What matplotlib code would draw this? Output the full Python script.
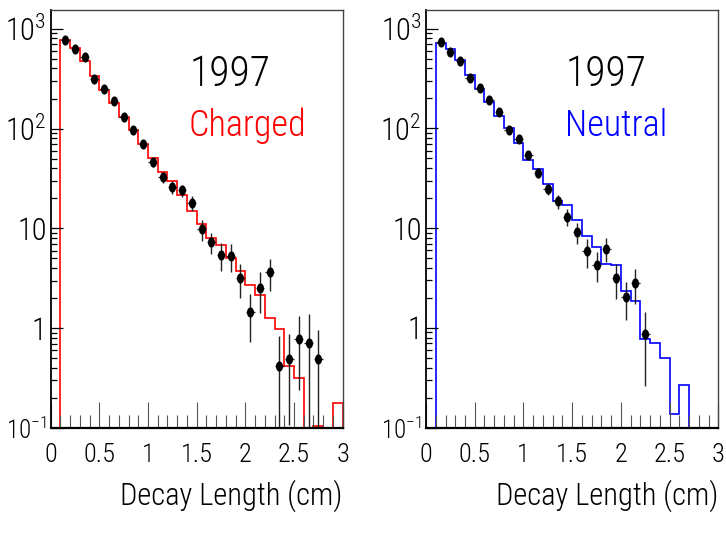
#decay length distributions, charged and neutral, 1997 data vs MC histogram
import numpy as np
import matplotlib
matplotlib.use('Agg')
import matplotlib.pyplot as plt
from matplotlib import font_manager
from matplotlib.path import Path
from matplotlib.transforms import Affine2D
from matplotlib.markers import MarkerStyle
from matplotlib.ticker import LogLocator, NullFormatter, MultipleLocator

# pick the narrowest sans font we can find (ROOT font is very condensed)
names = {f.name for f in font_manager.fontManager.ttflist}
fam = 'DejaVu Sans'
for cand in ['Liberation Sans Narrow', 'Roboto Condensed', 'DejaVu Sans Condensed', 'Liberation Sans']:
    if cand in names:
        fam = cand
        break
plt.rcParams['font.family'] = [fam, 'DejaVu Sans']
plt.rcParams['font.weight'] = 'light'
plt.rcParams['axes.labelweight'] = 'light'
plt.rcParams['mathtext.default'] = 'regular'

# bins 0.1 .. 3.0 in steps of 0.1
bin_edges = np.round(np.arange(0.1, 3.05, 0.1), 2)

charged_hist = [776, 636, 471, 339, 245, 181, 130, 97, 70, 51, 37, 30, 21.4, 15.1, 11.0,
                8.1, 6.76, 5.1, 3.7, 2.7, 2.14, 1.27, 0.985, 0.417, 0.318, 0, 0.105, 0, 0.18]
charged_x = [0.15, 0.25, 0.35, 0.45, 0.55, 0.65, 0.75, 0.85, 0.95, 1.05, 1.15, 1.25, 1.35, 1.45,
             1.55, 1.65, 1.75, 1.85, 1.95, 2.05, 2.15, 2.25, 2.35, 2.45, 2.55, 2.65, 2.75]
charged_y = [763, 626, 516, 316, 249, 189, 131, 96, 70, 46, 32.6, 25.9, 24, 18.1,
             9.8, 7.3, 5.45, 5.3, 3.2, 1.46, 2.53, 3.66, 0.417, 0.486, 0.788, 0.703, 0.486]
charged_err = [19.5, 17.7, 16, 12.6, 11, 9.7, 8, 6.9, 5.9, 4.8, 4.0, 3.6, 3.5, 3.0,
               2.4, 1.7, 1.7, 1.65, 1.2, 0.73, 1.1, 1.3, 0.42, 0.38, 0.55, 0.68, 0.48]

neutral_hist = [724, 630, 481, 340, 250, 184, 133, 100, 71.4, 47.9, 39.5, 27.6, 18.7, 16.9, 12.0,
                8.3, 6.5, 4.35, 4.25, 2.33, 1.85, 0.77, 0.70, 0.505, 0.136, 0.27, 0, 0, 0]
neutral_x = [0.15, 0.25, 0.35, 0.45, 0.55, 0.65, 0.75, 0.85, 0.95, 1.05, 1.15,
             1.25, 1.35, 1.45, 1.55, 1.65, 1.75, 1.85, 1.95, 2.05, 2.15, 2.25]
neutral_y = [734, 583, 470, 323, 256, 191, 145, 97.3, 79, 53.7, 35.7,
             24.9, 18.6, 12.9, 9.1, 5.9, 4.32, 6.25, 3.17, 2.05, 2.83, 0.86]
neutral_err = [19, 17, 15.3, 12.7, 11.3, 9.8, 8.5, 7, 6.3, 5.2, 4.2,
               3.5, 3.0, 2.5, 2.1, 1.9, 1.45, 1.7, 1.2, 0.85, 1.1, 0.6]

ytick_vals = [0.1, 1, 10, 100, 1000]
ytick_labels = [r'$10^{-1}$', '1', '10', r'$10^{2}$', r'$10^{3}$']
xtick_vals = [0, 0.5, 1, 1.5, 2, 2.5, 3]
xtick_labels = ['0', '0.5', '1', '1.5', '2', '2.5', '3']

# tall ellipse marker like the squashed ROOT circle
ellipse = MarkerStyle(Path.unit_circle().transformed(Affine2D().scale(0.65, 1.0)))

fig = plt.figure(figsize=(7.26, 5.33), dpi=100)
ax_l = fig.add_axes([0.0698, 0.197, 0.4022, 0.7842])
ax_r = fig.add_axes([0.5868, 0.1976, 0.4026, 0.7837])

panels = [(ax_l, charged_hist, charged_x, charged_y, charged_err, 'red', 'Charged', 0.672),
          (ax_r, neutral_hist, neutral_x, neutral_y, neutral_err, 'blue', 'Neutral', 0.652)]

for ax, hist, px, py, perr, col, name, name_x in panels:
    ax.stairs(hist, bin_edges, baseline=0, color=col, lw=1.2)
    ax.errorbar(px, py, yerr=perr, xerr=0.045, ls='none', marker=ellipse, ms=6.3,
                color='black', ecolor='#222222', elinewidth=1.0, capsize=0)
    ax.set_yscale('log')
    ax.set_xlim(0, 3)
    ax.set_ylim(0.1, 1540)

    ax.set_yticks(ytick_vals, ytick_labels)
    ax.yaxis.set_minor_locator(LogLocator(base=10, subs=np.arange(2, 10)))
    ax.yaxis.set_minor_formatter(NullFormatter())
    ax.set_xticks(xtick_vals, xtick_labels)
    ax.xaxis.set_minor_locator(MultipleLocator(0.1))

    ax.tick_params(axis='x', which='major', direction='in', length=18.7, width=0.8,
                   color='#555555', labelsize=19, pad=11)
    ax.tick_params(axis='x', which='minor', direction='in', length=9.4, width=0.8, color='#555555')
    ax.tick_params(axis='y', which='major', direction='in', length=8.6, width=0.9,
                   color='black', labelsize=22, pad=3)
    ax.tick_params(axis='y', which='minor', direction='in', length=4.0, width=0.9, color='black')
    for lab in ax.get_xticklabels() + ax.get_yticklabels():
        lab.set_fontweight('light')
    # the 10^-1 label is the widest one, keep it inside the figure
    ax.get_yticklabels()[0].set_fontsize(18)

    ax.spines['left'].set_linewidth(1.3)
    ax.spines['bottom'].set_linewidth(1.6)
    for s in ['top', 'right']:
        ax.spines[s].set_color('#444444')
        ax.spines[s].set_linewidth(1.0)

    ax.set_xlabel('Decay Length (cm)', fontsize=22, loc='right', labelpad=9)
    ax.text(0.615, 0.818, '1997', transform=ax.transAxes, fontsize=30,
            ha='center', va='baseline', color='black')
    ax.text(name_x, 0.698, name, transform=ax.transAxes,
            fontsize=26, ha='center', va='baseline', color=col)

fig.savefig('out.png', dpi=100)
